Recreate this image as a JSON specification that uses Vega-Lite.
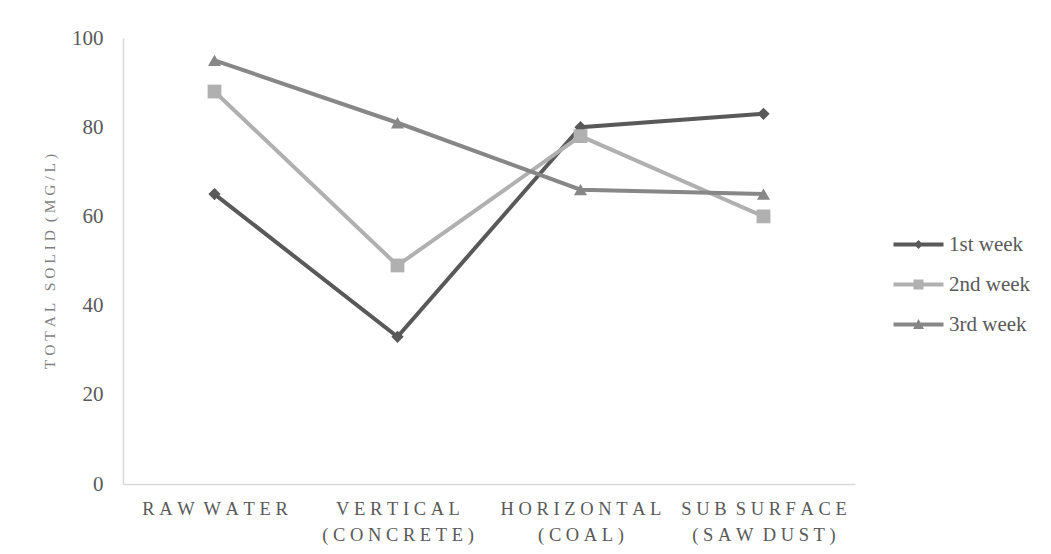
{
  "$schema": "https://vega.github.io/schema/vega-lite/v6.json",
  "autosize": "none",
  "padding": {"left": 123, "top": 38, "right": 196, "bottom": 70},
  "width": 732,
  "height": 446,
  "background": "#ffffff",
  "config": {
    "font": "Liberation Serif",
    "view": {"stroke": null},
    "axis": {"domainColor": "#d9d9d9", "domainWidth": 1.5, "ticks": false, "grid": false, "labelColor": "#595959", "titleColor": "#7f7f7f", "labelFont": "Liberation Serif", "titleFont": "Liberation Serif"}
  },
  "data": {
    "values": [
      {"stage": "RAW WATER", "week": "1st week", "solid": 65},
      {"stage": "VERTICAL (CONCRETE)", "week": "1st week", "solid": 33},
      {"stage": "HORIZONTAL (COAL)", "week": "1st week", "solid": 80},
      {"stage": "SUB SURFACE (SAW DUST)", "week": "1st week", "solid": 83},
      {"stage": "RAW WATER", "week": "2nd week", "solid": 88},
      {"stage": "VERTICAL (CONCRETE)", "week": "2nd week", "solid": 49},
      {"stage": "HORIZONTAL (COAL)", "week": "2nd week", "solid": 78},
      {"stage": "SUB SURFACE (SAW DUST)", "week": "2nd week", "solid": 60},
      {"stage": "RAW WATER", "week": "3rd week", "solid": 95},
      {"stage": "VERTICAL (CONCRETE)", "week": "3rd week", "solid": 81},
      {"stage": "HORIZONTAL (COAL)", "week": "3rd week", "solid": 66},
      {"stage": "SUB SURFACE (SAW DUST)", "week": "3rd week", "solid": 65}
    ]
  },
  "encoding": {
    "x": {
      "field": "stage",
      "type": "nominal",
      "sort": null,
      "scale": {"type": "point", "padding": 0.5},
      "axis": {
        "title": null,
        "labelAngle": 0,
        "labelFontSize": 18.5,
        "labelPadding": 15,
        "labelLineHeight": 26,
        "labelBaseline": "top",
        "labelExpr": "split(replace(replace(datum.label, / \\(/, '|('), /([^ |])(?=[^|])/g, '$1\u2005'), '|')"
      }
    },
    "y": {
      "field": "solid",
      "type": "quantitative",
      "scale": {"domain": [0, 100]},
      "axis": {
        "title": "T\u2005O\u2005T\u2005A\u2005L\u2005\u2005 S\u2005O\u2005L\u2005I\u2005D\u2005 (\u2005M\u2005G\u2005/\u2005L\u2005)",
        "titleFontSize": 15.5,
        "titleFontWeight": "normal",
        "titlePadding": 14,
        "labelFontSize": 21,
        "labelPadding": 20,
        "values": [0, 20, 40, 60, 80, 100]
      }
    },
    "color": {
      "field": "week",
      "type": "nominal",
      "scale": {"domain": ["1st week", "2nd week", "3rd week"], "range": ["#595959", "#b0b0b0", "#878787"]},
      "legend": {
        "title": null,
        "orient": "none",
        "legendX": 765,
        "legendY": 196,
        "padding": 0,
        "symbolSize": 100,
        "labelOffset": 40,
        "labelFontSize": 21,
        "labelColor": "#595959",
        "rowPadding": 18,
        "encode": {
          "symbols": {
            "update": {
              "shape": {"signal": "datum.value === '1st week' ? 'M-1,-0.4H9V0.4H-1Z M4,-0.9L4.9,0L4,0.9L3.1,0Z' : datum.value === '2nd week' ? 'M-1,-0.4H9V0.4H-1Z M3,-1H5V1H3Z' : 'M-1,-0.4H9V0.4H-1Z M4,-1.1L5.1,0.9L2.9,0.9Z'"},
              "fill": {"signal": "datum.value === '1st week' ? '#595959' : datum.value === '2nd week' ? '#b0b0b0' : '#878787'"},
              "fillOpacity": {"value": 1},
              "stroke": {"value": "transparent"},
              "strokeWidth": {"value": 0}
            }
          }
        }
      }
    }
  },
  "layer": [
    {
      "mark": {"type": "line", "strokeWidth": 4}
    },
    {
      "transform": [{"filter": "datum.week === '1st week'"}],
      "mark": {"type": "point", "filled": true, "opacity": 1, "shape": "diamond", "size": 150}
    },
    {
      "transform": [{"filter": "datum.week === '2nd week'"}],
      "mark": {"type": "point", "filled": true, "opacity": 1, "shape": "square", "size": 190}
    },
    {
      "transform": [{"filter": "datum.week === '3rd week'"}],
      "mark": {"type": "point", "filled": true, "opacity": 1, "shape": "triangle-up", "size": 170}
    }
  ]
}
